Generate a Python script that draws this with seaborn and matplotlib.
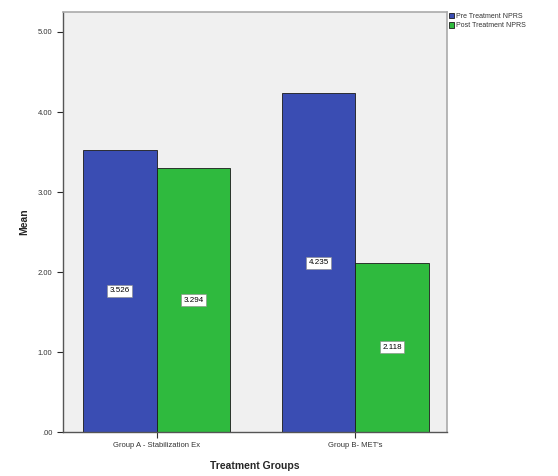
import matplotlib
matplotlib.use("Agg")
import matplotlib.pyplot as plt
import seaborn as sns
import pandas as pd

groups = ["Group A - Stabilization Ex", "Group B- MET's"]
series = ["Pre Treatment NPRS", "Post Treatment NPRS"]
pre_values = [3.526, 4.235]
post_values = [3.294, 2.118]
y_ticks = [0, 1, 2, 3, 4, 5]
y_ticklabels = [".00", "1.00", "2.00", "3.00", "4.00", "5.00"]

df = pd.DataFrame({
    "group": groups * 2,
    "series": [series[0]] * 2 + [series[1]] * 2,
    "value": pre_values + post_values,
})

sns.set_style("white")
plt.rcParams["font.family"] = ["Liberation Sans", "DejaVu Sans"]

fig = plt.figure(figsize=(5.58, 4.76), dpi=100)
ax = fig.add_axes([0.1129, 0.0924, 0.801 - 0.1129, 0.9748 - 0.0924])
ax.set_facecolor("#F0F0F0")

palette = {series[0]: "#3A4DB3", series[1]: "#2FBA3E"}
sns.barplot(data=df, x="group", y="value", hue="series", order=groups,
            hue_order=series, palette=palette, width=0.74, saturation=1,
            edgecolor="#1a1a1a", linewidth=0.6, errorbar=None, ax=ax)

for container in ax.containers:
    for bar in container:
        h = bar.get_height()
        ax.text(bar.get_x() + bar.get_width() / 2, h / 2, f"{h:.3f}",
                ha="center", va="center", fontsize=5.8, color="black",
                bbox=dict(boxstyle="square,pad=0.3", fc="white", ec="#888888", lw=0.4))

ax.set_xlim(-0.47, 1.46)
ax.set_ylim(0, 5.25)
ax.set_yticks(y_ticks)
ax.set_yticklabels(y_ticklabels, fontsize=5.5, color="#333333")
ax.tick_params(axis="x", labelsize=5.5, colors="#333333", length=4, width=0.8, direction="out", bottom=True)
ax.tick_params(axis="y", length=4, width=0.8, direction="out", left=True)
ax.set_xlabel("Treatment Groups", fontsize=7.5, fontweight="bold", labelpad=8)
ax.set_ylabel("Mean", fontsize=7.5, fontweight="bold", labelpad=6)

for s in ["top", "right"]:
    ax.spines[s].set_color("#aaaaaa")
    ax.spines[s].set_linewidth(1.2)
for s in ["left", "bottom"]:
    ax.spines[s].set_color("#555555")
    ax.spines[s].set_linewidth(1.0)

leg = ax.legend(loc="upper left", bbox_to_anchor=(1.003, 1.0), frameon=False,
                fontsize=5, handlelength=0.8, handleheight=0.9, handletextpad=0.3,
                labelspacing=0.3, borderaxespad=0, borderpad=0.1)
for t in leg.get_texts():
    t.set_color("#333333")

fig.savefig("out.png", dpi=100)
